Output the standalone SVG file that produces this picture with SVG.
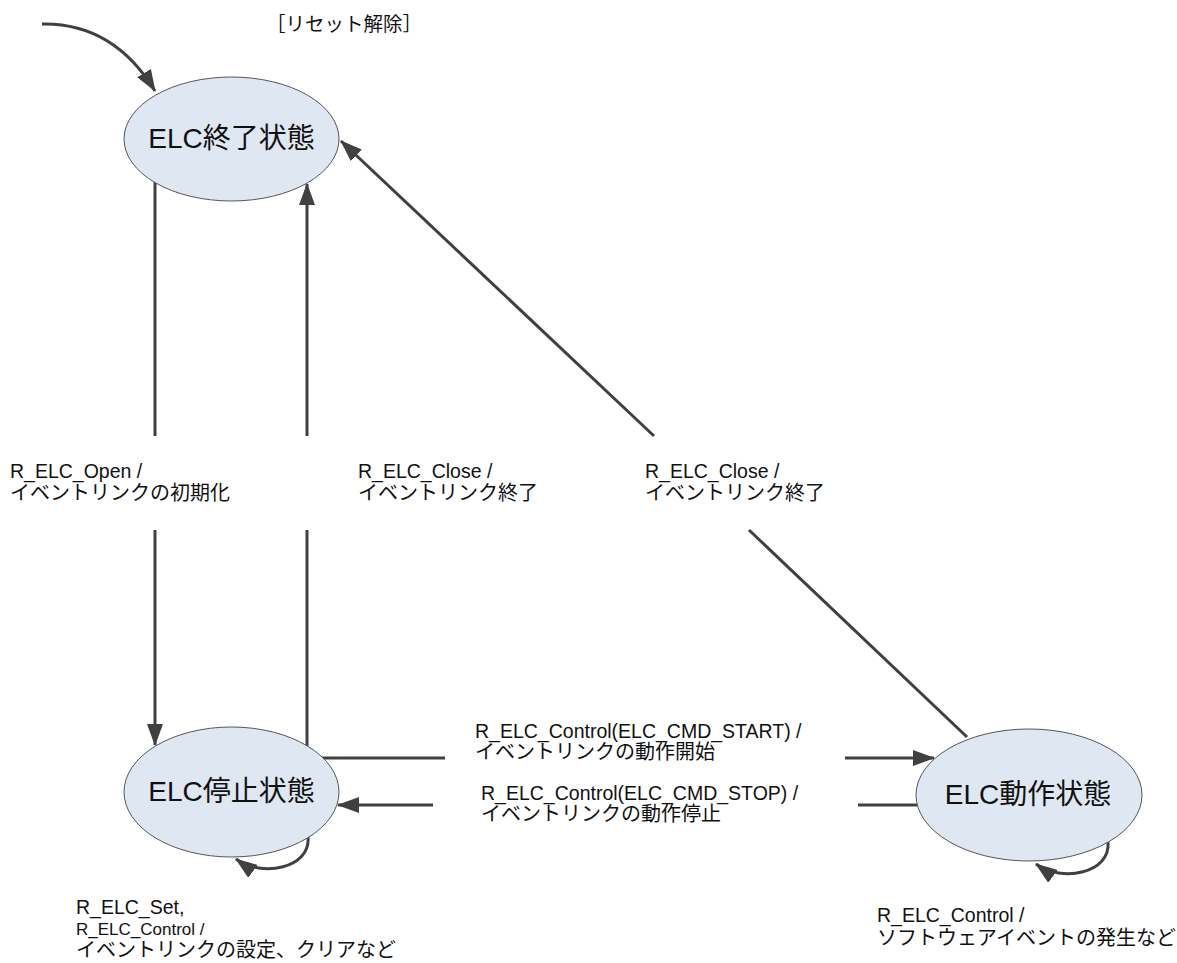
<svg xmlns="http://www.w3.org/2000/svg" width="1177" height="963" viewBox="0 0 1177 963">
<style>
.bg{fill:#ffffff}
.state{fill:#dfe8f2;stroke:#555555;stroke-width:1}
.title{font-family:"Liberation Sans","Noto Sans CJK JP",sans-serif;font-size:28px;fill:#111111;text-anchor:middle}
.lbl{font-family:"Liberation Sans","Noto Sans CJK JP",sans-serif;font-size:19.5px;fill:#111111}
.jp{font-size:20px}
.sm{font-size:17px}
.edge{fill:none;stroke:#404040;stroke-width:3}
.arr{marker-end:url(#ah)}
</style>
<defs>
<marker id="ah" markerUnits="userSpaceOnUse" markerWidth="22" markerHeight="16" viewBox="0 0 22 16" refX="21" refY="8" orient="auto">
<path d="M0,0 L22,8 L0,16 z" fill="#404040"/>
</marker>
</defs>
<rect class="bg" x="0" y="0" width="1177" height="963"/>

<g id="connectors">
<path id="e-init" class="edge arr" d="M42,24 C95,23 130,50 155,91"/>
<line id="e-open-a" class="edge" x1="155" y1="182" x2="155" y2="436"/>
<line id="e-open-b" class="edge arr" x1="155" y1="530" x2="155" y2="745"/>
<line id="e-close1-a" class="edge" x1="307" y1="746" x2="307" y2="530"/>
<line id="e-close1-b" class="edge arr" x1="307" y1="436" x2="307" y2="184"/>
<line id="e-close2-a" class="edge" x1="967" y1="737" x2="749" y2="530"/>
<line id="e-close2-b" class="edge arr" x1="654" y1="436" x2="341" y2="141"/>
<line id="e-start-a" class="edge" x1="322" y1="758" x2="445" y2="758"/>
<line id="e-start-b" class="edge arr" x1="845" y1="758" x2="934" y2="758"/>
<line id="e-stop-a" class="edge" x1="917" y1="805" x2="858" y2="805"/>
<line id="e-stop-b" class="edge arr" x1="433" y1="805" x2="338" y2="805"/>
<path id="e-loop-stop" class="edge arr" d="M308,837 C311,868 262,878 236,859"/>
<path id="e-loop-run" class="edge arr" d="M1108,842 C1111,873 1062,883 1036,864"/>
</g>

<g id="node-end">
<ellipse class="state" cx="231.5" cy="139" rx="107.5" ry="62"/>
<text class="title" x="231.5" y="148">ELC終了状態</text>
</g>
<g id="node-stop">
<ellipse class="state" cx="231.5" cy="792" rx="107.5" ry="65"/>
<text class="title" x="231.5" y="801">ELC停止状態</text>
</g>
<g id="node-run">
<ellipse class="state" cx="1029" cy="795" rx="113" ry="66"/>
<text class="title" x="1028" y="804">ELC動作状態</text>
</g>

<g id="labels">
<text class="lbl" x="344" y="31" text-anchor="middle" font-size="19">［リセット解除］</text>
<text class="lbl" x="10" y="478">R_ELC_Open /</text>
<text class="lbl jp" x="10" y="500">イベントリンクの初期化</text>
<text class="lbl" x="358" y="478">R_ELC_Close /</text>
<text class="lbl jp" x="358" y="500">イベントリンク終了</text>
<text class="lbl" x="645" y="478">R_ELC_Close /</text>
<text class="lbl jp" x="645" y="500">イベントリンク終了</text>
<text class="lbl" x="475" y="738">R_ELC_Control(ELC_CMD_START) /</text>
<text class="lbl jp" x="475" y="759">イベントリンクの動作開始</text>
<text class="lbl" x="481" y="800">R_ELC_Control(ELC_CMD_STOP) /</text>
<text class="lbl jp" x="481" y="821">イベントリンクの動作停止</text>
<text class="lbl" x="76" y="914">R_ELC_Set,</text>
<text class="lbl sm" x="76" y="935">R_ELC_Control /</text>
<text class="lbl jp" x="76" y="957">イベントリンクの設定、クリアなど</text>
<text class="lbl" x="877" y="922">R_ELC_Control /</text>
<text class="lbl jp" x="877" y="945">ソフトウェアイベントの発生など</text>
</g>
</svg>
